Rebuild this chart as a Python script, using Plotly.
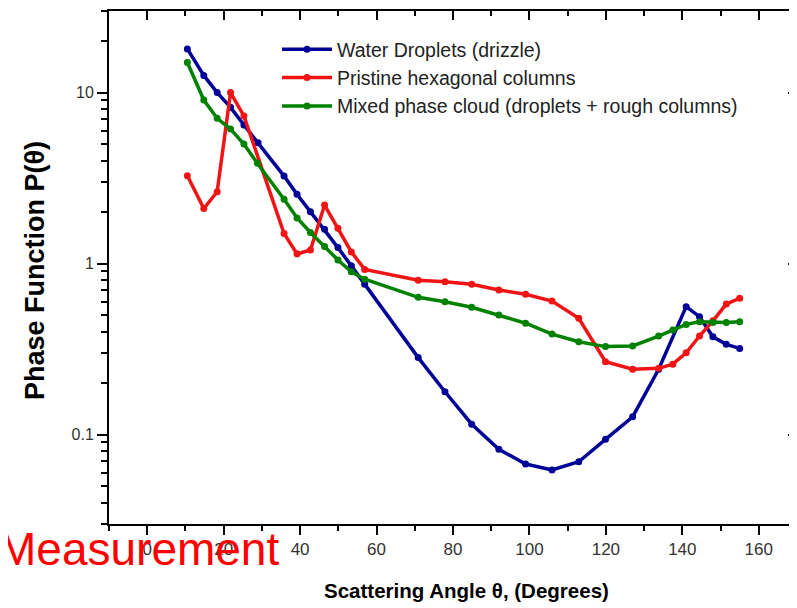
import math
import plotly.graph_objects as go

# ---------------- data ----------------
angles_water = [10.5, 14.8, 18.3, 21.8, 25.3, 29.0, 35.8, 39.2, 42.7, 46.4, 49.9, 53.4, 56.9,
                70.9, 77.9, 84.9, 92.0, 99.0, 105.9, 112.9, 119.9, 127.0, 133.8,
                141.0, 144.5, 148.0, 151.5, 155.0]
water = [18.0, 12.6, 10.0, 8.2, 6.46, 5.09, 3.25, 2.54, 2.01, 1.59, 1.24, 0.97, 0.757,
         0.282, 0.178, 0.115, 0.082, 0.0673, 0.0621, 0.0694, 0.0938, 0.127, 0.241,
         0.560, 0.489, 0.373, 0.337, 0.319]

angles_pristine = [10.5, 14.8, 18.3, 21.8, 25.3, 35.8, 39.2, 42.7, 46.4, 49.9, 53.4, 56.9,
                   70.9, 77.9, 84.9, 92.0, 99.0, 105.9, 112.9, 119.9, 127.0, 133.8, 137.5,
                   141.0, 144.5, 148.0, 151.5, 155.0]
pristine = [3.26, 2.10, 2.63, 10.0, 7.3, 1.50, 1.14, 1.20, 2.20, 1.61, 1.17, 0.925,
            0.80, 0.783, 0.757, 0.70, 0.661, 0.604, 0.479, 0.267, 0.241, 0.244, 0.258,
            0.301, 0.377, 0.463, 0.580, 0.627]

angles_mixed = [10.5, 14.8, 18.3, 21.8, 25.3, 28.8, 35.8, 39.2, 42.7, 46.4, 49.9, 53.4, 56.9,
                70.9, 77.9, 84.9, 92.0, 99.0, 105.9, 112.9, 119.9, 127.0, 133.8, 137.5,
                141.0, 144.5, 148.0, 151.5, 155.0]
mixed = [15.0, 9.05, 7.07, 6.12, 5.0, 3.86, 2.38, 1.85, 1.52, 1.26, 1.05, 0.896, 0.81,
         0.635, 0.598, 0.555, 0.50, 0.448, 0.387, 0.349, 0.327, 0.330, 0.377, 0.409,
         0.441, 0.457, 0.452, 0.452, 0.457]

series_names = ["Water Droplets (drizzle)",
                "Pristine hexagonal columns",
                "Mixed phase cloud (droplets + rough columns)"]
series_colors = ["rgb(0,0,150)", "rgb(240,20,20)", "rgb(0,130,0)"]

x_range = [-10, 170]
y_range_vals = [0.03, 30]
y_major = [0.1, 1, 10]
y_major_labels = ["0.1", "1", "10"]
y_minor = [0.03, 0.04, 0.05, 0.06, 0.07, 0.08, 0.09,
           0.2, 0.3, 0.4, 0.5, 0.6, 0.7, 0.8, 0.9,
           2, 3, 4, 5, 6, 7, 8, 9, 20, 30]

y_range = [math.log10(y_range_vals[0]), math.log10(y_range_vals[1])]

# geometry: the page body adds an 8px offset, so figure margins compensate
OFF = 8
W, H = 797, 608
L = 109 - OFF
T = 11 - OFF
R = W - (797 - OFF)
B = H - (524 - OFF)
PW, PH = W - L - R, H - T - B


def px_x(px):  # screen pixel -> paper x
    return (px - OFF - L) / PW


def px_y(py):  # screen pixel -> paper y
    return (H - B - (py - OFF)) / PH


fig = go.Figure()
for xs, ys, name, col in [
    (angles_water, water, series_names[0], series_colors[0]),
    (angles_pristine, pristine, series_names[1], series_colors[1]),
    (angles_mixed, mixed, series_names[2], series_colors[2]),
]:
    fig.add_trace(go.Scatter(
        x=xs, y=ys, name=name, mode="lines+markers",
        line=dict(color=col, width=3.5),
        marker=dict(color=col, size=7),
    ))

# empty trace so the mirrored (top / right) frame axes get drawn
fig.add_trace(go.Scatter(x=[], y=[], xaxis="x2", yaxis="y2", showlegend=False,
                         hoverinfo="skip"))

axis_font = dict(family="Arial, Liberation Sans, sans-serif", size=17, color="#333333")

fig.update_layout(
    width=W, height=H,
    margin=dict(l=L, r=R, t=T, b=B),
    paper_bgcolor="white", plot_bgcolor="white",
    showlegend=True,
    legend=dict(
        x=px_x(277), y=px_y(30), xanchor="left", yanchor="top",
        bgcolor="rgba(0,0,0,0)", itemwidth=50,
        font=dict(family="Arial, Liberation Sans, sans-serif", size=19.5, color="#222222"),
    ),
    xaxis=dict(
        range=x_range, tick0=0, dtick=20, ticks="outside", ticklen=9, tickwidth=1.5,
        tickcolor="black", showline=True, linecolor="black", linewidth=2,
        showgrid=False, zeroline=False, tickfont=axis_font, automargin=False,
        minor=dict(dtick=10, tick0=0, ticks="outside", ticklen=5, tickwidth=1.5,
                   tickcolor="black", showgrid=False),
    ),
    yaxis=dict(
        type="log", range=y_range, tickvals=y_major, ticktext=y_major_labels,
        ticks="outside", ticklen=10, tickwidth=1.5, tickcolor="black",
        showline=True, linecolor="black", linewidth=2, showgrid=False,
        zeroline=False, automargin=False,
        tickfont=dict(family="Arial, Liberation Sans, sans-serif", size=16, color="#333333"),
        minor=dict(tickvals=y_minor, ticks="outside", ticklen=6, tickwidth=1.5,
                   tickcolor="black", showgrid=False),
    ),
    xaxis2=dict(
        overlaying="x", side="top", range=x_range, tick0=0, dtick=20,
        ticks="inside", ticklen=9, tickwidth=1.5, tickcolor="black",
        showline=True, linecolor="black", linewidth=2, showgrid=False,
        zeroline=False, showticklabels=False, automargin=False,
        minor=dict(dtick=10, tick0=0, ticks="inside", ticklen=5, tickwidth=1.5,
                   tickcolor="black", showgrid=False),
    ),
    yaxis2=dict(
        overlaying="y", side="right", type="log", range=y_range,
        tickvals=y_major, ticks="inside", ticklen=9, tickwidth=1.5,
        tickcolor="black", showline=True, linecolor="black", linewidth=2,
        showgrid=False, zeroline=False, showticklabels=False, automargin=False,
        minor=dict(tickvals=y_minor, ticks="inside", ticklen=5, tickwidth=1.5,
                   tickcolor="black", showgrid=False),
    ),
)

title_font_family = "Liberation Sans Narrow, Arial Narrow, Liberation Sans, Arial, sans-serif"
fig.add_annotation(
    text="<b>Phase Function P(θ)</b>", xref="paper", yref="paper",
    x=px_x(35), y=px_y(271), xanchor="center", yanchor="middle",
    textangle=-90, showarrow=False,
    font=dict(family=title_font_family, size=27, color="black"),
)
fig.add_annotation(
    text="<b>Scattering Angle θ, (Degrees)</b>", xref="paper", yref="paper",
    x=px_x(466), y=px_y(590), xanchor="center", yanchor="middle",
    showarrow=False,
    font=dict(family=title_font_family, size=20.5, color="black"),
)
fig.add_annotation(
    text="Measurement", xref="paper", yref="paper",
    x=px_x(-4), y=px_y(549), xanchor="left", yanchor="middle",
    showarrow=False,
    font=dict(family="Arial, Liberation Sans, sans-serif", size=46, color="red"),
)

fig.write_html("out.html")
